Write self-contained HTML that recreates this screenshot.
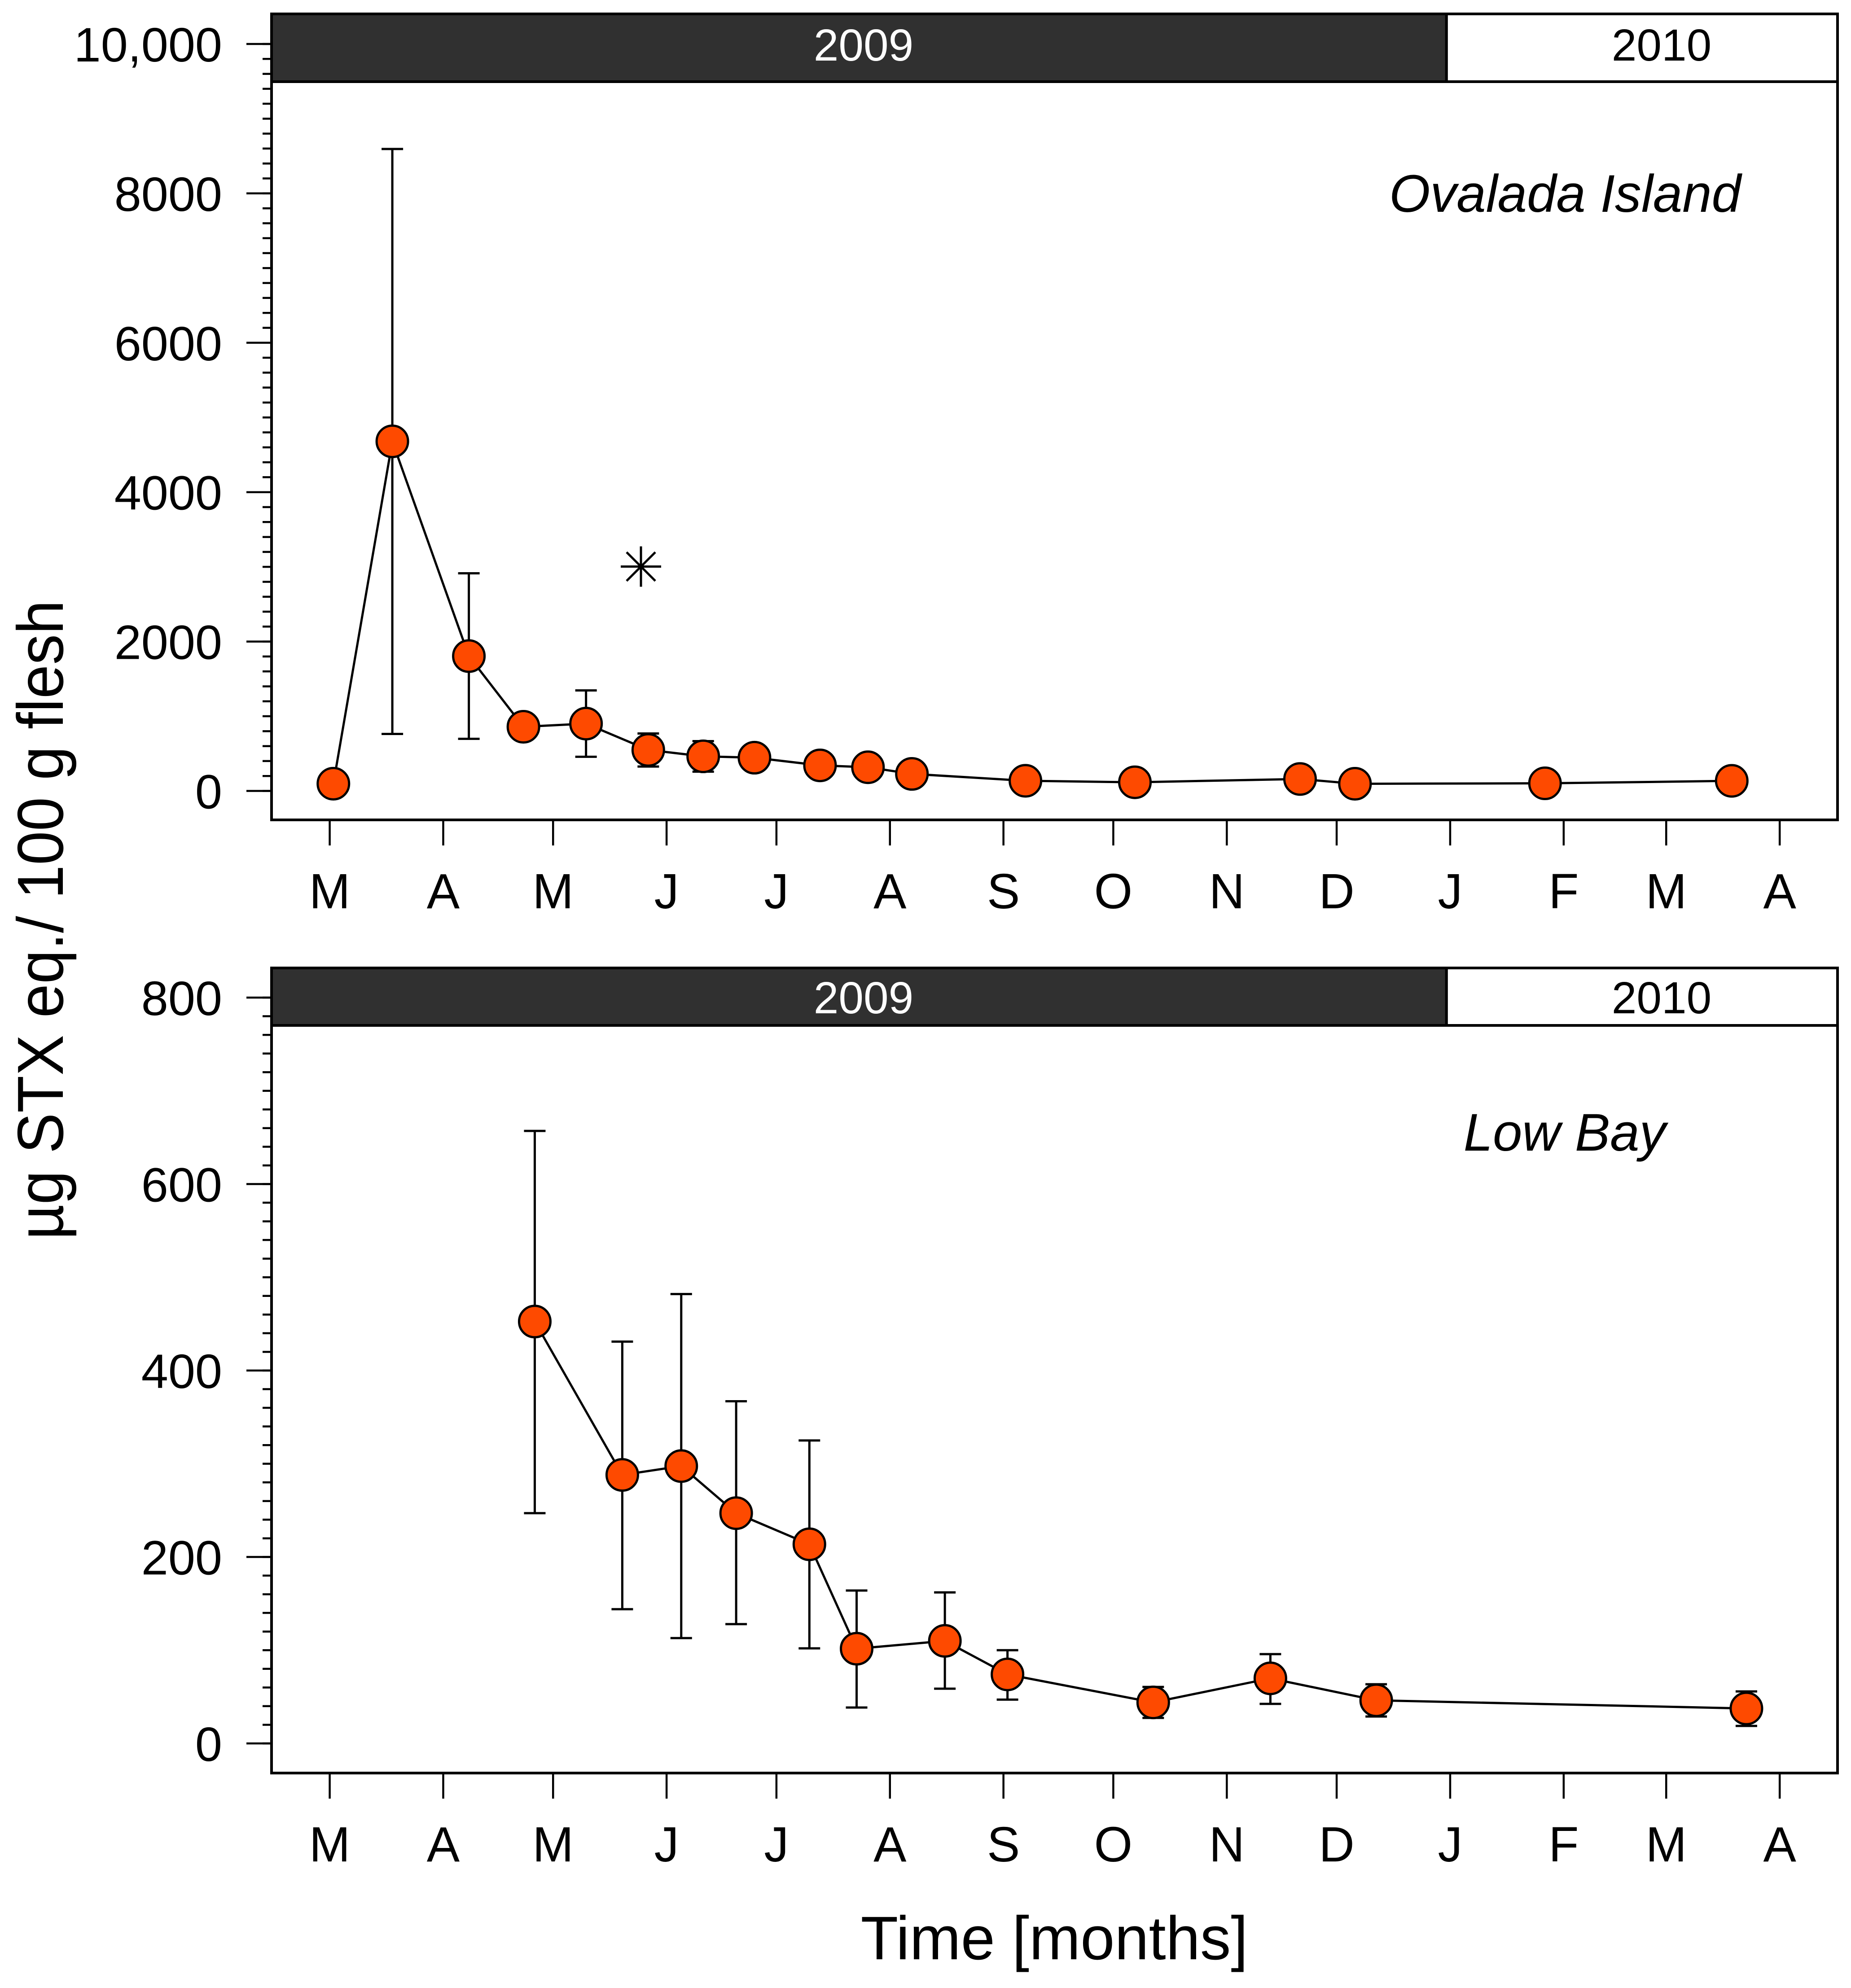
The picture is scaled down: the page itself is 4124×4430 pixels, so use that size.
<!DOCTYPE html>
<html lang="en">
<head>
<meta charset="utf-8">
<title>STX concentration over time: Ovalada Island and Low Bay</title>
<style>
html,body{margin:0;padding:0;background:#fff;}
svg{display:block;font-family:"Liberation Sans",Arial,sans-serif;}
</style>
</head>
<body>
<svg id="chart" xmlns="http://www.w3.org/2000/svg" width="4124" height="4430" viewBox="0 0 4124 4430">
  <rect x="0" y="0" width="4124" height="4430" fill="#fff"/>
  <g id="panel-top"></g>
  <g id="panel-bottom"></g>
  <text x="140" y="2050" transform="rotate(-90 140 2050)" text-anchor="middle" font-size="145" textLength="1425" lengthAdjust="spacingAndGlyphs">µg STX eq./ 100 g flesh</text>
  <text x="2349" y="4366" text-anchor="middle" font-size="137">Time [months]</text>
</svg>
<script>
// Shared x axis: days since 1 March 2009
const monthLabels = ["M","A","M","J","J","A","S","O","N","D","J","F","M","A"];
const monthDays = [0,31,61,92,122,153,184,214,245,275,306,337,365,396];
const yearLabels = ["2009","2010"];
const yearBreakDay = 305;

// Ovalada Island
const ovaladaDays = [1,17.1,38,52.9,70,87,102,116,133.9,147,159,190,219.9,265,280,331.9,382.9];
const ovaladaMean = [97,4680,1805,859,901,549,463,445,342,317,228,136,116,160,96,102,135];
const ovaladaUpper = [null,8594,2914,null,1346,769,667,null,null,null,null,null,null,null,null,null,null];
const ovaladaLower = [null,763,698,null,457,327,258,null,null,null,null,null,null,null,null,null,null];
const ovaladaTicks = [0,2000,4000,6000,8000,10000];
const ovaladaTickLabels = ["0","2000","4000","6000","8000","10,000"];
const ovaladaMinorStep = 200;
const ovaladaMarkerDay = 85;
const ovaladaMarkerValue = 3004;

// Low Bay
const lowBayDays = [56,79.9,96,111,131,143.9,168,185.1,224.9,256.9,285.8,386.9];
const lowBayMean = [452.5,288,297.5,247,213.6,101.6,110,74,44,69.8,46.2,37.5];
const lowBayUpper = [657,431,482,367,325,164,162,100,60.6,95.8,63.5,55.8];
const lowBayLower = [247,144,113,128,102,38.5,58.7,47,27.4,42.4,28.9,18.8];
const lowBayTicks = [0,200,400,600,800];
const lowBayTickLabels = ["0","200","400","600","800"];
const lowBayMinorStep = 20;

const NS = "http://www.w3.org/2000/svg";
const plotLeft = 605, plotRight = 4094;
function xScale(day){ return 734.6 + day * 8.158; }
function make(parent, tag, attrs, text){
  const node = document.createElementNS(NS, tag);
  for (const k in attrs) node.setAttribute(k, attrs[k]);
  if (text !== undefined) node.textContent = text;
  parent.appendChild(node);
  return node;
}

function drawPanel(cfg){
  const g = document.getElementById(cfg.id);
  const y = cfg.yScale;

  const frame = make(g, "rect", {x:plotLeft, y:cfg.top, width:plotRight-plotLeft, height:cfg.bottom-cfg.top, fill:"#fff", stroke:"#000", "stroke-width":6});
  
  

  const band1 = make(g, "rect", {x:plotLeft, y:cfg.top, width:xScale(yearBreakDay)-plotLeft, height:cfg.bandBottom-cfg.top, fill:"#303030", stroke:"#000", "stroke-width":6});
  
  

  const band2 = make(g, "rect", {x:xScale(yearBreakDay), y:cfg.top, width:plotRight-xScale(yearBreakDay), height:cfg.bandBottom-cfg.top, fill:"#fff", stroke:"#000", "stroke-width":6});
  
  

  const y1 = make(g, "text", {x:1924, y:cfg.yearBaseline, "text-anchor":"middle", "font-size":100, fill:"#fff"}, yearLabels[0]);
  
  

  const y2 = make(g, "text", {x:3702, y:cfg.yearBaseline, "text-anchor":"middle", "font-size":100, fill:"#000"}, yearLabels[1]);
  
  

  // y axis minor ticks
  const maxTick = cfg.ticks[cfg.ticks.length-1];
  for (let v = 0; v <= maxTick; v += cfg.minorStep){
    const t = make(g, "line", {x1:585, x2:plotLeft, y1:y(v), y2:y(v), stroke:"#000", "stroke-width":4.5});
    
    
  }
  // y axis major ticks and labels
  cfg.ticks.forEach(function(v, i){
    const t = make(g, "line", {x1:549, x2:plotLeft, y1:y(v), y2:y(v), stroke:"#000", "stroke-width":4.5});
    
    
    const l = make(g, "text", {x:495, y:y(v)+39, "text-anchor":"end", "font-size":108}, cfg.tickLabels[i]);
    
    
  });
  // x axis ticks and labels
  monthDays.forEach(function(d, i){
    const t = make(g, "line", {x1:xScale(d), x2:xScale(d), y1:cfg.bottom, y2:cfg.bottom+57, stroke:"#000", "stroke-width":4.5});
    
    
    const l = make(g, "text", {x:xScale(d), y:cfg.bottom+197, "text-anchor":"middle", "font-size":110}, monthLabels[i]);
    
    
  });
  // error bars
  cfg.days.forEach(function(d, i){
    if (cfg.upper[i] === null || cfg.lower[i] === null) return;
    const x = xScale(d);
    const stem = make(g, "line", {x1:x, x2:x, y1:y(cfg.upper[i]), y2:y(cfg.lower[i]), stroke:"#000", "stroke-width":5});
    
    
    const capT = make(g, "line", {x1:x-24, x2:x+24, y1:y(cfg.upper[i]), y2:y(cfg.upper[i]), stroke:"#000", "stroke-width":5});
    
    
    const capB = make(g, "line", {x1:x-24, x2:x+24, y1:y(cfg.lower[i]), y2:y(cfg.lower[i]), stroke:"#000", "stroke-width":5});
    
    
  });
  // connecting line
  const pts = cfg.days.map(function(d, i){ return xScale(d) + "," + y(cfg.mean[i]); }).join(" ");
  const line = make(g, "polyline", {points:pts, fill:"none", stroke:"#000", "stroke-width":5});
  
  
  // points
  cfg.days.forEach(function(d, i){
    const c = make(g, "circle", {cx:xScale(d), cy:y(cfg.mean[i]), r:35, fill:"#fe4a00", stroke:"#000", "stroke-width":5});
    
    
  });
  // site label
  const site = make(g, "text", {x:cfg.siteX, y:cfg.siteBaseline, "text-anchor":"middle", "font-size":cfg.siteSize, "font-style":"italic"}, cfg.site);
  
  
}

const yTop = function(v){ return 1762.5 - v * 0.16645; };
const yBottom = function(v){ return 3885 - v * 2.0775; };

drawPanel({id:"panel-top", top:31, bandBottom:182, bottom:1827, yScale:yTop,
  ticks:ovaladaTicks, tickLabels:ovaladaTickLabels, minorStep:ovaladaMinorStep,
  days:ovaladaDays, mean:ovaladaMean, upper:ovaladaUpper, lower:ovaladaLower,
  site:"Ovalada Island", siteX:3487, siteSize:117.5, siteBaseline:472, yearBaseline:135});

drawPanel({id:"panel-bottom", top:2157, bandBottom:2285, bottom:3951, yScale:yBottom,
  ticks:lowBayTicks, tickLabels:lowBayTickLabels, minorStep:lowBayMinorStep,
  days:lowBayDays, mean:lowBayMean, upper:lowBayUpper, lower:lowBayLower,
  site:"Low Bay", siteX:3486, siteSize:117.5, siteBaseline:2564, yearBaseline:2258});

// Asterisk marking the significant sampling date in the top panel
const topGroup = document.getElementById("panel-top");
const mx = xScale(ovaladaMarkerDay), my = yTop(ovaladaMarkerValue);
const star = make(topGroup, "path", {
  d: "M" + (mx-45) + " " + my + "H" + (mx+45) +
     "M" + mx + " " + (my-45) + "V" + (my+45) +
     "M" + (mx-32) + " " + (my-32) + "L" + (mx+32) + " " + (my+32) +
     "M" + (mx-32) + " " + (my+32) + "L" + (mx+32) + " " + (my-32),
  fill:"none", stroke:"#000", "stroke-width":5});


</script>
</body>
</html>
